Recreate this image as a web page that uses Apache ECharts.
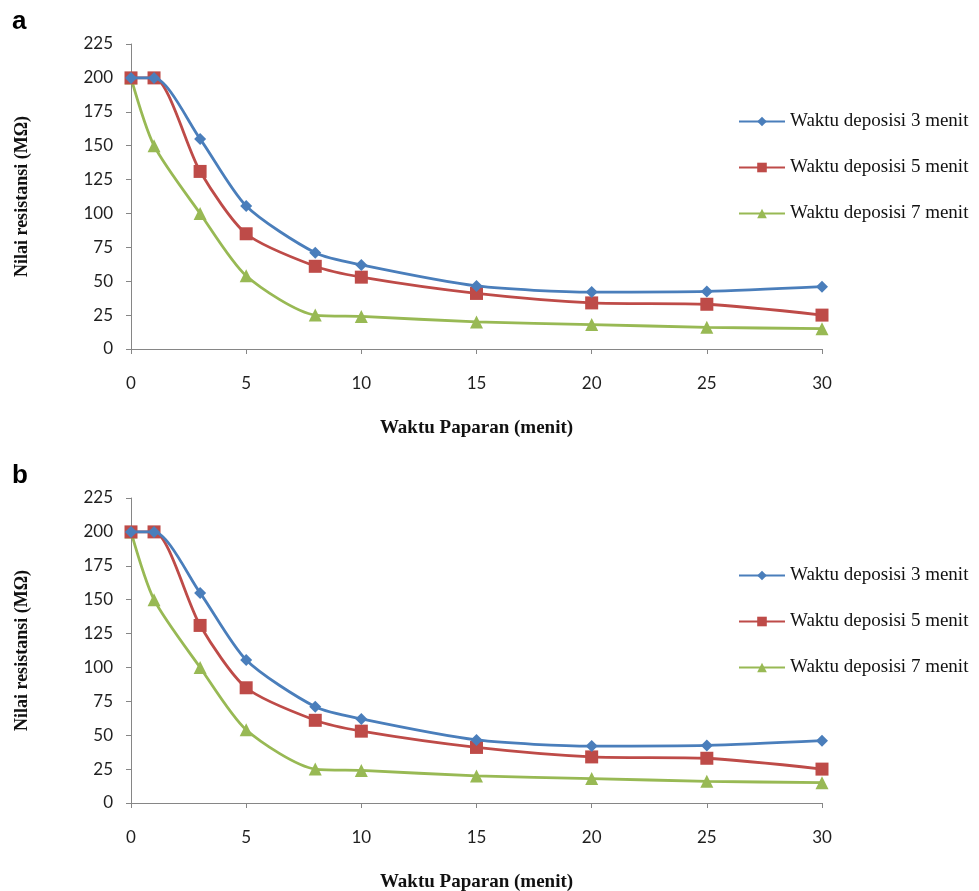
<!DOCTYPE html>
<html>
<head>
<meta charset="utf-8">
<script src="https://cdn.jsdelivr.net/npm/echarts@6/dist/echarts.min.js"></script>
<style>
  html, body { margin: 0; padding: 0; background: #fff; }
  #chart { width: 979px; height: 891px; }
</style>
</head>
<body>
<div id="chart"></div>
<script>
const exposureTime = [0, 1, 3, 5, 8, 10, 15, 20, 25, 30];
const dep3 = [200, 200, 155, 105.5, 71, 62, 46.5, 42, 42.5, 46];
const dep5 = [200, 200, 131, 85, 61, 53, 41, 34, 33, 25];
const dep7 = [200, 150, 100, 54, 25, 24, 20, 18, 16, 15];
const seriesNames = ['Waktu deposisi 3 menit', 'Waktu deposisi 5 menit', 'Waktu deposisi 7 menit'];
const panelLabels = ['a', 'b'];

const colors = ['#4A7EBB', '#BE4B48', '#98B954'];
const symbols = ['diamond', 'rect', 'triangle'];
const symbolSizes = [12, 13, 13];
const values = [dep3, dep5, dep7];

const panelTops = [44, 498];

const chart = echarts.init(document.getElementById('chart'));

const grids = panelTops.map((top) => ({
  left: 131, top, width: 691, height: 305,
  outerBoundsMode: 'none', containLabel: false,
}));

const axisLine = { show: true, lineStyle: { color: '#868686', width: 1 } };
const tickLabel = { fontFamily: 'Lato', fontSize: 17, color: '#1f1f1f' };

const xAxes = panelTops.map((_, i) => ({
  type: 'value',
  gridIndex: i,
  min: 0,
  max: 30,
  interval: 5,
  axisLine,
  axisTick: { show: true, length: 5, lineStyle: { color: '#868686' } },
  splitLine: { show: false },
  axisLabel: { ...tickLabel, margin: 26 },
  name: 'Waktu Paparan (menit)',
  nameLocation: 'middle',
  nameGap: 70,
  nameTextStyle: { fontFamily: 'Liberation Serif', fontWeight: 'bold', fontSize: 19, color: '#111' },
}));

const yAxes = panelTops.map((_, i) => ({
  type: 'value',
  gridIndex: i,
  min: 0,
  max: 225,
  interval: 25,
  axisLine,
  axisTick: { show: true, length: 5, lineStyle: { color: '#868686' } },
  splitLine: { show: false },
  axisLabel: { ...tickLabel, margin: 18 },
  name: 'Nilai resistansi (MΩ)',
  nameLocation: 'middle',
  nameGap: 100,
  nameTextStyle: { fontFamily: 'Liberation Serif', fontWeight: 'bold', fontSize: 18, color: '#111' },
}));

const series = [];
panelTops.forEach((_, p) => {
  values.forEach((vals, s) => {
    series.push({
      name: seriesNames[s],
      type: 'line',
      xAxisIndex: p,
      yAxisIndex: p,
      smooth: 0.25,
      data: exposureTime.map((t, k) => [t, vals[k]]),
      symbol: symbols[s],
      symbolSize: symbolSizes[s],
      showAllSymbol: true,
      itemStyle: { color: colors[s] },
      lineStyle: { color: colors[s], width: 2.8 },
      z: 3 - s,
    });
  });
});

const legends = panelTops.map((top) => ({
  orient: 'vertical',
  left: 733,
  top: top + 63,
  itemWidth: 46,
  itemHeight: 12,
  itemGap: 27,
  data: seriesNames,
  textStyle: { fontFamily: 'Liberation Serif', fontSize: 19, color: '#111' },
}));

const titles = panelLabels.map((label, i) => ({
  text: label,
  left: 7,
  top: panelTops[i] - 40,
  textStyle: { fontFamily: 'Liberation Sans', fontWeight: 'bold', fontSize: 26, color: '#000' },
}));

chart.setOption({
  animation: false,
  title: titles,
  grid: grids,
  xAxis: xAxes,
  yAxis: yAxes,
  legend: legends,
  series,
});
</script>
</body>
</html>
